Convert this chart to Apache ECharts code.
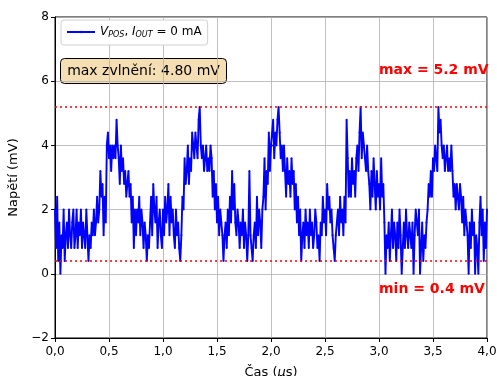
<!DOCTYPE html>
<html><head><meta charset="utf-8">
<script src="https://cdn.jsdelivr.net/npm/echarts@6/dist/echarts.min.js"></script>
<style>html,body{margin:0;padding:0;background:#fff}#c{width:497px;height:376px}</style>
</head><body><div id="c"></div>
<script>
// sampling grid of the trace (µs)
const t0 = 0, dt = 0.01;
// V_POS ripple samples (mV)
const vpos = [
2,0.8,2.4,
0.4,1.6,0,1.2,0.8,2,0.4,1.2,
1.6,0.8,2,1.2,0.8,1.6,2,0.8,1.2,2,0.8,1.6,1.2,2,0.8,1.6,1.2,0.8,2,1.2,
0.4,1.2,0.8,
1.6,1.2,2,1.2,1.6,
2.4,1.6,2,
3.2,2.4,2.8,
1.2,2.4,1.6,
4,4.4,
3.6,4,3.2,4,3.6,4,3.6,
4.8,4,
3.6,2.8,4,3.2,3.6,2.8,
3.2,2.4,2.8,3.2,2.4,2.8,
1.6,2.4,0.8,2,1.2,
2,1.6,2.4,1.2,2,1.6,
0.8,1.6,1.2,0.4,1.2,0.8,
1.6,2.4,1.2,2.8,2,1.6,2.4,
0.8,1.6,2,1.2,0.8,
2,1.2,2.4,1.6,2,2.8,1.2,2.4,1.6,2,
1.2,0.8,2,1.2,1.6,0.8,0.4,1.2,
2.4,2,3.6,2.8,
3.2,4,2.8,3.6,3.2,4.4,
4,3.6,4.4,4,3.6,4.8,5.2,4,
3.6,4,3.2,3.6,4,3.2,3.6,3.2,4,3.6,
2.4,3.2,2,2.8,
1.6,2.4,1.2,2,1.6,1.2,
0.4,1.2,
1.6,0.8,2,1.2,
2.4,1.6,3.2,2,2.8,
1.6,1.2,2,1.6,
0.8,1.6,1.2,2,0.8,1.6,1.2,0.4,1.2,
3.2,1.2,0.8,
0.4,1.2,
1.6,0.8,2.4,1.2,2,1.6,0.8,2,
2.4,3.6,2,3.2,2.8,
4.4,3.2,4,
4,4.8,3.6,4.4,4,4.8,5.2,
4.4,3.6,4,3.2,4,
3.2,2.4,3.6,2.8,3.2,2.4,3.6,2.8,3.2,
2,2.8,1.6,2.4,1.2,2,
0.4,1.2,1.6,0.8,2,1.2,1.6,0.8,2,1.2,1.6,0.8,1.2,2,1.6,
0.8,1.2,0.4,
1.6,1.2,2.4,1.6,2,1.2,
2.8,2,2.4,1.6,2,
1.2,0.8,0.4,1.2,1.6,
2,1.2,2.4,1.6,2,1.2,2.4,1.6,
4.8,3.6,2.4,
3.2,2.4,3.6,2.8,3.2,2.4,3.6,
4,3.2,4.4,5.2,3.6,4.4,4,
3.6,3.2,4,3.2,
2.8,2,3.2,2.4,3.6,2.8,2,3.2,2.4,2.8,2,3.6,2.4,2.8,
1.6,0,1.2,
0.8,1.6,0.4,1.2,2,0.8,1.6,1.2,0.4,1.6,0.8,2,1.2,0,0.8,
1.6,0.8,2,
1.2,0.8,1.6,1.2,0.8,1.6,
0,1.2,2,1.6,1.2,2,
0,0.8,1.6,0.4,1.2,0.8,1.6,
2,2.8,2.4,3.2,2.4,
3.6,3.2,4,3.6,3.2,
5.2,4.4,4.8,4,
3.6,4,3.2,3.6,4,3.2,3.6,3.2,4,3.2,
2.4,2.8,2,2.8,2.4,2,2.8,2.4,
1.6,2.4,1.2,2,1.6,1.2,0,1.6,
0.8,2,1.2,1.6,0,1.2,0.8,0,1.6,2.4,1.2,2,0.4,1.6,0.8,2
];
const maxV = 5.2, minV = 0.4, ripple = 4.80;
const xTicks = ['0,0','0,5','1,0','1,5','2,0','2,5','3,0','3,5','4,0'];

const data = vpos.map((v, i) => [+(t0 + i * dt).toFixed(3), v]);
const font = 'DejaVu Sans';
const chart = echarts.init(document.getElementById('c'), null, {renderer: 'canvas'});
const axisCommon = {
  axisLine: {show: true, onZero: false, lineStyle: {color: '#000', width: 1}},
  axisTick: {show: true, inside: false, length: 4, lineStyle: {color: '#000'}},
  splitLine: {show: true, lineStyle: {color: '#b0b0b0', width: 0.8}},
  axisLabel: {color: '#000', fontFamily: font, fontSize: 12},
  nameTextStyle: {color: '#000', fontFamily: font, fontSize: 13}
};
chart.setOption({
  animation: false,
  backgroundColor: '#fff',
  grid: {left: 55, right: 10, top: 17, bottom: 38, show: true, borderColor: '#000', borderWidth: 1,
    containLabel: false, outerBoundsMode: 'none'},
  legend: {
    show: true, left: 61, top: 20, orient: 'vertical',
    backgroundColor: '#fff', borderColor: '#d0d0d0', borderWidth: 1, borderRadius: 3,
    padding: [6, 6, 6, 5], itemWidth: 28, itemHeight: 3, itemGap: 4,
    textStyle: {
      fontFamily: font, fontSize: 12, color: '#000',
      rich: {
        i: {fontFamily: font, fontSize: 12, fontStyle: 'italic', color: '#000'},
        s: {fontFamily: font, fontSize: 8, fontStyle: 'italic', color: '#000', padding: [6, 0, 0, 0]},
        n: {fontFamily: font, fontSize: 12, color: '#000'}
      }
    },
    formatter: function () { return '{i|V}{s|POS}{n|, }{i|I}{s|OUT}{n| = 0 mA}'; },
    data: ['vpos']
  },
  xAxis: Object.assign({}, axisCommon, {
    type: 'value', min: 0, max: 4, interval: 0.5,
    name: '{n|Čas (}{i|μ}{n|s)}', nameLocation: 'middle', nameGap: 28,
    nameTextStyle: {color: '#000', fontFamily: font, fontSize: 13,
      rich: {n: {fontFamily: font, fontSize: 13, color: '#000'}, i: {fontFamily: font, fontSize: 13, fontStyle: 'italic', color: '#000'}}},
    axisLabel: {color: '#000', fontFamily: font, fontSize: 12, margin: 8,
      formatter: v => xTicks[Math.round(v / 0.5)]}
  }),
  yAxis: Object.assign({}, axisCommon, {
    type: 'value', min: -2, max: 8, interval: 2,
    name: 'Napětí (mV)', nameLocation: 'middle', nameGap: 28,
    axisLabel: {color: '#000', fontFamily: font, fontSize: 12, margin: 6,
      formatter: v => (v < 0 ? '\u2212' + Math.abs(v) : String(v))}
  }),
  series: [{
    name: 'vpos', type: 'line', data: data,
    symbol: 'circle', symbolSize: 2, showSymbol: true,
    lineStyle: {color: '#0000ff', width: 1.9},
    itemStyle: {color: '#0000ff'},
    markLine: {
      silent: true, symbol: 'none', label: {show: false},
      lineStyle: {color: '#ff0000', type: [2, 3], width: 1.5},
      data: [{yAxis: maxV}, {yAxis: minV}]
    },
    z: 3
  }],
  graphic: [
    {type: 'text', left: 379, top: 63, z: 10,
      style: {text: 'max = ' + maxV + ' mV', fill: '#ff0000', font: 'bold 14px "DejaVu Sans"'}},
    {type: 'text', left: 379, top: 282, z: 10,
      style: {text: 'min = ' + minV + ' mV', fill: '#ff0000', font: 'bold 14px "DejaVu Sans"'}},
    {type: 'group', left: 60, top: 58, z: 10, children: [
      {type: 'rect', shape: {x: 0, y: 0, width: 166, height: 25, r: 4},
        style: {fill: '#f5deb3', stroke: '#000', lineWidth: 1}},
      {type: 'text', x: 83, y: 12.5,
        style: {text: 'max zvlnění: ' + ripple.toFixed(2) + ' mV', fill: '#000', font: '14px "DejaVu Sans"', align: 'center', verticalAlign: 'middle'}}
    ]}
  ]
});
</script></body></html>
